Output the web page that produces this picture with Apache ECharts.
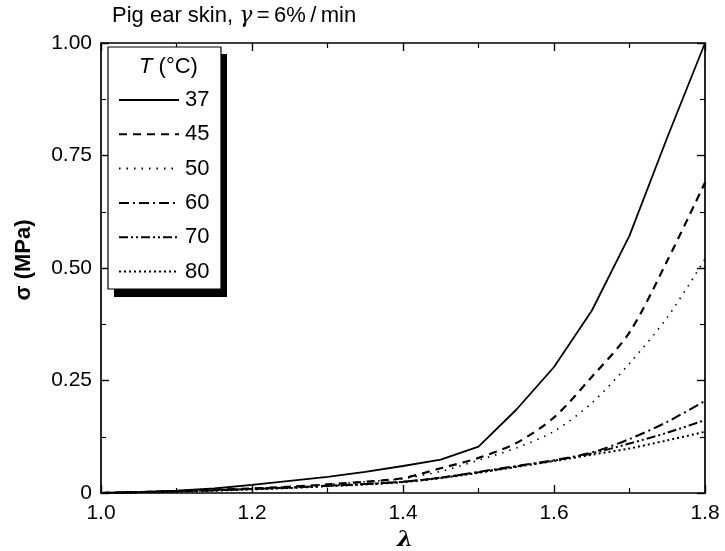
<!DOCTYPE html>
<html>
<head>
<meta charset="utf-8">
<script src="https://cdn.jsdelivr.net/npm/echarts@6/dist/echarts.min.js"></script>
<style>html,body{margin:0;padding:0;background:#fff;}#c{width:725px;height:551px;}</style>
</head>
<body>
<div id="c"></div>
<script>
var lambda = [1.00,1.05,1.10,1.15,1.20,1.25,1.30,1.35,1.40,1.45,1.50,1.55,1.60,1.65,1.70,1.75,1.80];
var s37 = [0,0.002,0.005,0.010,0.018,0.027,0.036,0.047,0.060,0.074,0.103,0.185,0.280,0.405,0.572,0.790,1.000];
var s45 = [0,0.002,0.004,0.007,0.010,0.014,0.019,0.025,0.033,0.055,0.078,0.111,0.168,0.258,0.357,0.516,0.690];
var s50 = [0,0.002,0.004,0.007,0.010,0.014,0.019,0.025,0.032,0.048,0.073,0.100,0.137,0.200,0.288,0.390,0.520];
var s60 = [0,0.002,0.004,0.006,0.009,0.012,0.016,0.020,0.025,0.034,0.047,0.060,0.073,0.090,0.120,0.158,0.205];
var s70 = [0,0.002,0.004,0.006,0.009,0.012,0.016,0.020,0.025,0.034,0.046,0.059,0.072,0.088,0.110,0.134,0.162];
var s80 = [0,0.002,0.003,0.005,0.008,0.011,0.015,0.019,0.024,0.033,0.045,0.058,0.071,0.085,0.099,0.117,0.136];
var seriesNames = ['37','45','50','60','70','80'];
var xTicks = [1.0,1.2,1.4,1.6,1.8];
var yTicks = [0,0.25,0.50,0.75,1.00];

var FONT = 'Liberation Sans, Arial, Helvetica, sans-serif';
var allData = [s37,s45,s50,s60,s70,s80];
var styles = [
  {width:1.8, type:'solid', smooth:false},
  {width:2.2, type:[8,6], smooth:0.3},
  {width:1.6, type:[1.5,6], smooth:0.3},
  {width:2, type:[10,4,2,4], smooth:0.3},
  {width:2, type:[9,3,2,3,2,3], smooth:0.3},
  {width:2, type:[2,3], smooth:0.3}
];
function pairs(arr){ return lambda.map(function(l,i){ return [l, arr[i]]; }); }

var axisCommon = {
  axisLine:{show:true, onZero:false, lineStyle:{color:'#000', width:1.7}},
  axisTick:{show:true, inside:true, length:8, lineStyle:{color:'#000', width:1.4}},
  minorTick:{show:true, splitNumber:2, length:5, lineStyle:{color:'#000', width:1.2}},
  splitLine:{show:false}
};
function ax(extra){ var o = JSON.parse(JSON.stringify(axisCommon)); for (var k in extra) o[k]=extra[k]; return o; }

var chart = echarts.init(document.getElementById('c'), null, {renderer:'canvas'});
chart.setOption({
  backgroundColor:'#fff',
  animation:false,
  grid:{left:101, right:20, top:43, bottom:58, containLabel:false},
  xAxis:[
    ax({type:'value', min:xTicks[0], max:xTicks[xTicks.length-1], interval:0.2, position:'bottom',
      axisLabel:{show:true, margin:10, color:'#000', fontSize:21, fontFamily:FONT, formatter:function(v){return v.toFixed(1);}}}),
    ax({type:'value', min:xTicks[0], max:xTicks[xTicks.length-1], interval:0.2, position:'top', axisLabel:{show:false}})
  ],
  yAxis:[
    ax({type:'value', min:yTicks[0], max:yTicks[yTicks.length-1], interval:0.25, position:'left',
      axisLabel:{show:true, margin:9, color:'#000', fontSize:21, fontFamily:FONT, formatter:function(v){return v===0?'0':v.toFixed(2);}}}),
    ax({type:'value', min:yTicks[0], max:yTicks[yTicks.length-1], interval:0.25, position:'right', axisLabel:{show:false}})
  ],
  legend:{
    show:true, orient:'vertical', left:118, top:89, padding:0, itemWidth:60, itemHeight:14, itemGap:12.3,
    data:seriesNames, selectedMode:false,
    itemStyle:{opacity:0, borderWidth:0},
    textStyle:{color:'#000', fontSize:22, fontFamily:FONT, padding:[0,0,0,1]},
    z:10
  },
  graphic:[
    {type:'rect', z:5, shape:{x:114, y:54, width:113, height:243}, style:{fill:'#000'}},
    {type:'rect', z:6, shape:{x:108, y:47, width:113, height:242}, style:{fill:'#fff', stroke:'#000', lineWidth:1.2}},
    {type:'text', z:7, left:139, top:56, style:{text:'{i|T} (°C)', font:'22px '+FONT, fill:'#000',
      rich:{i:{fontStyle:'italic', fontSize:22, fontFamily:FONT, fill:'#000'}}}},
    {type:'text', z:7, left:112, top:5, style:{text:'Pig ear skin, {g|γ}\u2009=\u20096%\u2009/\u2009min', font:'22px '+FONT, fill:'#000',
      rich:{g:{fontStyle:'italic', fontSize:22, fontFamily:'DejaVu Serif, serif', fill:'#000'}}}},
    {type:'text', z:7, x:13, y:260, rotation:Math.PI/2, style:{text:'σ (MPa)', font:'bold 22px '+FONT, fill:'#000', align:'center', verticalAlign:'top'}},
    {type:'text', z:7, x:405, y:529, style:{text:'λ', font:'italic bold 23px DejaVu Serif, serif', fill:'#000', align:'center', verticalAlign:'top'}}
  ],
  series: seriesNames.map(function(n,i){
    return {type:'line', name:n, xAxisIndex:0, yAxisIndex:0, data:pairs(allData[i]), symbol:'none', showSymbol:false, smooth:styles[i].smooth,
      lineStyle:{color:'#000', width:styles[i].width, type:styles[i].type}, itemStyle:{color:'#000'}};
  })
});
</script>
</body>
</html>
